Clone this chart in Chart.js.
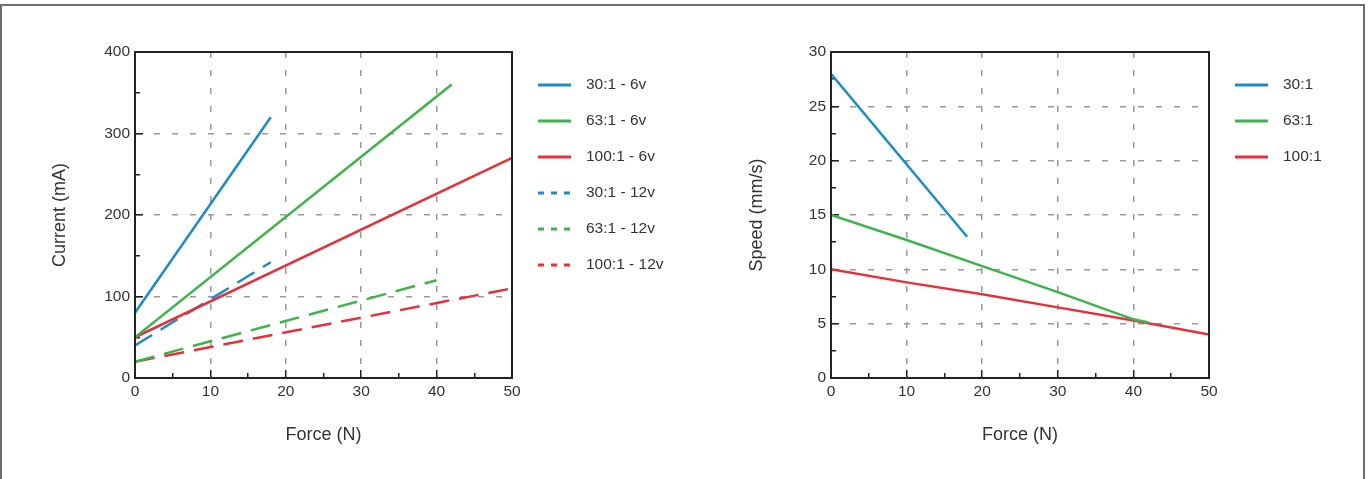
<!DOCTYPE html>
<html>
<head>
<meta charset="utf-8">
<title>Force vs current / speed</title>
<script src="https://cdn.jsdelivr.net/npm/chart.js@4/dist/chart.umd.min.js"></script>
<style>
  html, body { margin: 0; padding: 0; background: #fff; }
  body { width: 1371px; height: 479px; position: relative; overflow: hidden; }
  .frame {
    position: absolute; left: 0; top: 4px; width: 1365px; height: 490px;
    box-sizing: border-box; border: 2px solid #6e6e6e;
  }
  canvas { position: absolute; top: 0; }
  #current-chart { left: 0; }
  #speed-chart { left: 690px; }
</style>
</head>
<body>
<div class="frame"></div>
<canvas id="current-chart" width="690" height="479"></canvas>
<canvas id="speed-chart" width="681" height="479"></canvas>
<script>
// Current vs force (left panel)
const currentLabels = ['30:1 - 6v', '63:1 - 6v', '100:1 - 6v', '30:1 - 12v', '63:1 - 12v', '100:1 - 12v'];
const currentForce = [[0, 18], [0, 42], [0, 50], [0, 18], [0, 40], [0, 50]];
const currentValues = [[80, 320], [50, 360], [50, 270], [40, 142], [20, 120], [20, 110]];
const currentDashed = [false, false, false, true, true, true];

// Speed vs force (right panel)
const speedLabels = ['30:1', '63:1', '100:1'];
const speedForce = [[0, 18], [0, 10, 20, 30, 40, 42], [0, 10, 20, 30, 40, 50]];
const speedValues = [[28, 13], [15, 12.7, 10.3, 7.9, 5.4, 5.1], [10, 8.8, 7.7, 6.5, 5.3, 4.0]];
const speedDashed = [false, false, false];

// Tick settings
const forceRange = { min: 0, max: 50, step: 5, labelEvery: 10 };
const currentRange = { min: 0, max: 400, step: 50, labelEvery: 100 };
const speedRange = { min: 0, max: 30, step: 2.5, labelEvery: 5 };

const COLORS = ['#1c8cc8', '#3cb44b', '#e6313a', '#1c8cc8', '#3cb44b', '#e6313a'];
const FONT = '"Liberation Sans", Arial, Helvetica, sans-serif';

Chart.defaults.font.family = FONT;
Chart.defaults.color = '#333';

/**
 * Draws the full box around the plot area
 */
const plotFrame = {
  id: 'plotFrame',
  afterDraw(chart) {
    const { ctx, chartArea: a } = chart;
    ctx.save();
    ctx.strokeStyle = '#222';
    ctx.lineWidth = 2;
    ctx.strokeRect(a.left, a.top, a.right - a.left, a.bottom - a.top);
    ctx.restore();
  }
};

/**
 * Legend to the right of the plot: short line sample, then the label
 */
const sideLegend = {
  id: 'sideLegend',
  afterDraw(chart, args, opts) {
    const { ctx, chartArea } = chart;
    const x0 = chartArea.right + opts.offset;
    chart.data.datasets.forEach((ds, i) => {
      const y = chartArea.top + opts.top + i * opts.spacing;
      ctx.save();
      ctx.strokeStyle = ds.borderColor;
      ctx.lineWidth = 3;
      ctx.setLineDash(ds.borderDash.length ? [6, 7] : []);
      ctx.beginPath();
      ctx.moveTo(x0, y);
      ctx.lineTo(x0 + opts.lineLength, y);
      ctx.stroke();
      ctx.setLineDash([]);
      ctx.fillStyle = '#333';
      ctx.font = '15.5px ' + FONT;
      ctx.textBaseline = 'middle';
      ctx.fillText(ds.label, x0 + opts.lineLength + opts.gap, y);
      ctx.restore();
    });
  }
};

function makeDatasets(labels, forces, values, dashed) {
  return labels.map((label, i) => ({
    label,
    data: forces[i].map((f, j) => ({ x: f, y: values[i][j] })),
    borderColor: COLORS[i],
    borderWidth: 2.5,
    borderDash: dashed[i] ? [20, 10] : [],
    pointRadius: 0,
    fill: false,
    tension: 0
  }));
}

function isMajor(value, every) {
  return Math.abs(value / every - Math.round(value / every)) < 1e-6;
}

/**
 * One linear axis with inward ticks and dashed grid lines at labelled values
 */
function axisConfig(range, title, axis, titlePad, size) {
  const horizontal = axis === 'x';
  return {
    type: 'linear',
    min: range.min,
    max: range.max,
    afterFit(scale) {
      if (horizontal) scale.height = size;
      else scale.width = size;
    },
    border: { display: true, color: '#222', width: 2, dash: [6, 12] },
    grid: {
      lineWidth: 1.5,
      color: (ctx) => {
        const v = ctx.tick ? ctx.tick.value : null;
        if (v === null || v === range.min || v === range.max) return 'rgba(0,0,0,0)';
        return isMajor(v, range.labelEvery) ? '#9a9a9a' : 'rgba(0,0,0,0)';
      },
      tickLength: -8,
      tickWidth: 1.5,
      tickColor: '#222',
      // minor ticks: only the half next to the axis line is drawn
      tickBorderDash: (ctx) => (ctx.tick && isMajor(ctx.tick.value, range.labelEvery) ? [] : [6, 10]),
      tickBorderDashOffset: () => (horizontal ? 0 : 13)
    },
    ticks: {
      stepSize: range.step,
      autoSkip: false,
      maxRotation: 0,
      padding: horizontal ? 12 : 13,
      color: '#333',
      font: { size: 15.5 },
      callback: (v) => (isMajor(v, range.labelEvery) ? String(v) : '')
    },
    title: {
      display: true,
      text: title,
      color: '#333',
      font: { size: 18 },
      padding: horizontal ? { top: 0, bottom: titlePad } : { top: titlePad, bottom: 0 }
    }
  };
}

function buildChart(canvasId, datasets, yRange, yTitle, layout) {
  const ctx = document.getElementById(canvasId);
  return new Chart(ctx, {
    type: 'line',
    data: { datasets },
    options: {
      responsive: false,
      animation: false,
      events: [],
      layout: { padding: { top: 52, right: layout.right, left: 0, bottom: 0 } },
      scales: {
        x: axisConfig(forceRange, 'Force (N)', 'x', 33, 101),
        y: axisConfig(yRange, yTitle, 'y', layout.titlePad, layout.yWidth)
      },
      plugins: {
        legend: { display: false },
        tooltip: { enabled: false },
        sideLegend: { offset: 26, lineLength: 33, gap: 15, top: 33, spacing: 36 }
      }
    },
    plugins: [plotFrame, sideLegend]
  });
}

document.addEventListener('DOMContentLoaded', () => {
  buildChart('current-chart', makeDatasets(currentLabels, currentForce, currentValues, currentDashed),
    currentRange, 'Current (mA)', { right: 178, yWidth: 135, titlePad: 49 });
  buildChart('speed-chart', makeDatasets(speedLabels, speedForce, speedValues, speedDashed),
    speedRange, 'Speed (mm/s)', { right: 162, yWidth: 141, titlePad: 56 });
});
</script>
</body>
</html>
